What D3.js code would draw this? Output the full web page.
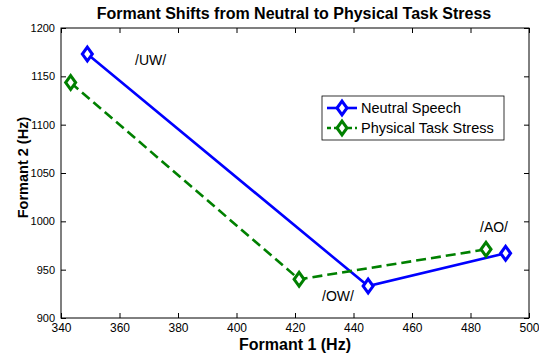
<!DOCTYPE html>
<html><head><meta charset="utf-8">
<script src="https://cdn.jsdelivr.net/npm/d3@7"></script>
<style>body{margin:0;background:#fff;} text{font-family:"Liberation Sans",Arial,sans-serif;}</style>
</head><body>
<svg id="c" width="539" height="358"></svg>
<script>
const vowels = ["/UW/", "/OW/", "/AO/"];
const neutralF1 = [349, 445, 492];
const neutralF2 = [1173, 933, 967];
const stressF1 = [343.3, 421.4, 485.3];
const stressF2 = [1143.5, 940, 971];
const xTicks = [340, 360, 380, 400, 420, 440, 460, 480, 500];
const yTicks = [900, 950, 1000, 1050, 1100, 1150, 1200];
const seriesNames = ["Neutral Speech", "Physical Task Stress"];

const svg = d3.select("#c");
const L = 61, R = 529, T = 28, B = 318;
const x = d3.scaleLinear().domain([340, 500]).range([L, R]);
const y = d3.scaleLinear().domain([900, 1200]).range([B, T]);

svg.append("rect").attr("x", 0).attr("y", 0).attr("width", 539).attr("height", 358).attr("fill", "#fff");

// axes
const gx = svg.append("g").attr("transform", `translate(0,${B})`)
  .call(d3.axisBottom(x).tickValues(xTicks).tickSize(-5).tickPadding(5).tickFormat(d3.format("d")));
const gy = svg.append("g").attr("transform", `translate(${L},0)`)
  .call(d3.axisLeft(y).tickValues(yTicks).tickSize(-5).tickPadding(6).tickFormat(d3.format("d")));
const gxt = svg.append("g").attr("transform", `translate(0,${T})`)
  .call(d3.axisTop(x).tickValues(xTicks).tickSize(-5).tickFormat(""));
const gyr = svg.append("g").attr("transform", `translate(${R},0)`)
  .call(d3.axisRight(y).tickValues(yTicks).tickSize(-5).tickFormat(""));
[gx, gy, gxt, gyr].forEach(g => {
  g.selectAll(".domain").remove();
  g.selectAll("line").attr("stroke", "#000").attr("stroke-width", 1);
  g.selectAll("text").attr("fill", "#000").style("font-family", "'Liberation Sans',Arial,sans-serif");
});
gx.selectAll("text").style("font-size", "12px");
gy.selectAll("text").style("font-size", "11px");
svg.append("rect").attr("x", L).attr("y", T).attr("width", R - L).attr("height", B - T)
  .attr("fill", "none").attr("stroke", "#000").attr("stroke-width", 1);

const series = [
  {f1: neutralF1, f2: neutralF2, color: "#0000ff", dash: null},
  {f1: stressF1, f2: stressF2, color: "#008000", dash: "10,5"}
];
const line = d3.line().x(d => x(d[0])).y(d => y(d[1]));
const diamond = d3.symbol().type(d3.symbolDiamond).size(55);
series.forEach(s => {
  const pts = s.f1.map((v, i) => [v, s.f2[i]]);
  svg.append("path").attr("d", line(pts)).attr("fill", "none").attr("stroke", s.color)
    .attr("stroke-width", 2.6).attr("stroke-dasharray", s.dash);
  svg.selectAll(null).data(pts).enter().append("path")
    .attr("d", diamond).attr("transform", d => `translate(${x(d[0])},${y(d[1])}) scale(1.25,1)`)
    .attr("fill", "#fff").attr("stroke", s.color).attr("stroke-width", 2.6);
});

// vowel labels
const labelPos = [[135, 65], [322, 301], [480, 232]];
vowels.forEach((v, i) => {
  svg.append("text").attr("x", labelPos[i][0]).attr("y", labelPos[i][1]).text(v)
    .style("font-size", "14px").attr("fill", "#000");
});

// legend
const lg = svg.append("g");
lg.append("rect").attr("x", 322).attr("y", 96).attr("width", 182).attr("height", 44)
  .attr("fill", "#fff").attr("stroke", "#000").attr("stroke-width", 0.8);
seriesNames.forEach((n, i) => {
  const yy = 108 + i * 20;
  lg.append("line").attr("x1", 327).attr("x2", 357).attr("y1", yy).attr("y2", yy)
    .attr("stroke", series[i].color).attr("stroke-width", 2.6).attr("stroke-dasharray", series[i].dash ? "4,3" : null);
  lg.append("path").attr("d", diamond).attr("transform", `translate(342,${yy}) scale(1.25,1)`)
    .attr("fill", "#fff").attr("stroke", series[i].color).attr("stroke-width", 2.6);
  lg.append("text").attr("x", 361).attr("y", yy + 5).text(n).style("font-size", "14.5px").attr("fill", "#000");
});

// titles
svg.append("text").attr("x", 294).attr("y", 19).attr("text-anchor", "middle")
  .style("font-size", "16px").style("font-weight", "bold").text("Formant Shifts from Neutral to Physical Task Stress");
svg.append("text").attr("x", 295).attr("y", 350).attr("text-anchor", "middle")
  .style("font-size", "16px").style("font-weight", "bold").text("Formant 1 (Hz)");
svg.append("text").attr("transform", "translate(28,167.5) rotate(-90)").attr("text-anchor", "middle")
  .style("font-size", "14.5px").style("font-weight", "bold").text("Formant 2 (Hz)");
</script>
</body></html>
